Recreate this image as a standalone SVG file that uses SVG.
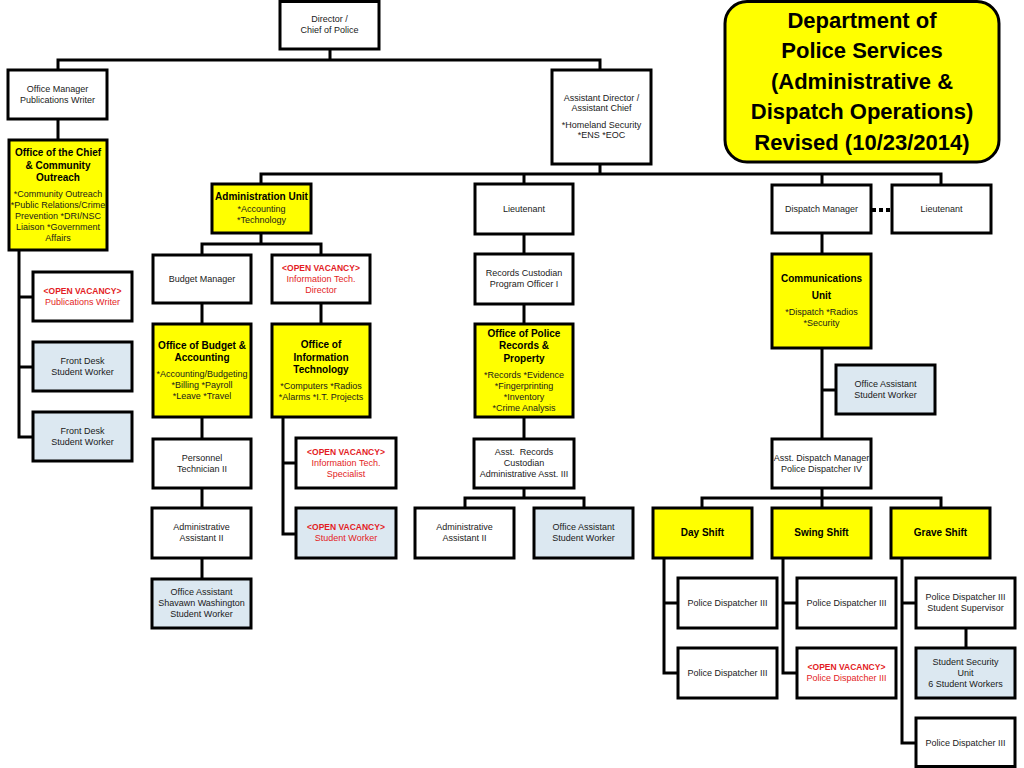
<svg xmlns="http://www.w3.org/2000/svg" width="1024" height="768" viewBox="0 0 1024 768">
<style>
.bx{stroke:#000;stroke-width:3}
.w{fill:#fff}
.y{fill:#ffff00}
.b{fill:#dce8f1}
.c{fill:none;stroke:#000;stroke-width:3;stroke-linecap:square}
text{font-family:"Liberation Sans",Arial,sans-serif;font-size:9px;text-anchor:middle;fill:#1a1a1a}
.h{font-weight:bold;font-size:10px;fill:#000}
.r{fill:#e31c25}
.rb{fill:#e31c25;font-weight:bold;font-size:8.5px}
.tt{font-weight:bold;font-size:22px;fill:#000}
</style>
<rect width="1024" height="768" fill="#fff"/>
<g id="connectors">
<path class="c" d="M330,49V60M58,60H600M58,60V70M600,60V70M58,119V140"/>
<path class="c" d="M19,250V437M19,297H33M19,367H33M19,437H33"/>
<path class="c" d="M600,164V174M261,174H941M261,174V184M524,174V184M822,174V185M941,174V185"/>
<path d="M872,210H891" fill="none" stroke="#000" stroke-width="4" stroke-dasharray="4 3"/>
<path class="c" d="M261,233V244M202,244H321M202,244V255M321,244V255M202,303V324M321,303V324"/>
<path class="c" d="M202,417V439M202,488V508M202,558V579"/>
<path class="c" d="M283,417V534M283,463H296M283,534H296"/>
<path class="c" d="M524,234V254M524,304V324M524,417V439M524,488V498M465,498H584M465,498V508M584,498V508"/>
<path class="c" d="M822,233V254M822,348V439M822,390H836M822,488V498M702,498H941M702,498V508M822,498V508M941,498V508"/>
<path class="c" d="M664,558V673M664,603H678M664,673H678"/>
<path class="c" d="M783,558V673M783,603H797M783,673H797"/>
<path class="c" d="M902,558V743M902,603H916M902,743H916M966,628V648"/>
</g>
<g id="director"><rect class="bx w" x="280" y="1.5" width="99" height="47.5"/><text x="329.5" y="22">Director /</text><text x="329.5" y="33">Chief of Police</text></g>
<g id="officeManager"><rect class="bx w" x="8" y="70" width="99" height="49"/><text x="57.5" y="92">Office Manager</text><text x="57.5" y="103">Publications Writer</text></g>
<g id="officeChief"><rect class="bx y" x="9" y="140" width="98" height="110"/>
<text class="h" x="58" y="156">Office of the Chief</text><text class="h" x="58" y="169">&amp; Community</text><text class="h" x="58" y="181">Outreach</text>
<text x="58" y="197">*Community Outreach</text><text x="58" y="208">*Public Relations/Crime</text><text x="58" y="219">Prevention *DRI/NSC</text><text x="58" y="230">Liaison *Government</text><text x="58" y="241">Affairs</text></g>
<g id="asstDirector"><rect class="bx w" x="552" y="70" width="99" height="94"/><text x="601.5" y="101">Assistant Director /</text><text x="601.5" y="111">Assistant Chief</text><text x="601.5" y="128">*Homeland Security</text><text x="601.5" y="138">*ENS *EOC</text></g>
<g id="title"><rect class="bx y" x="725" y="1.5" width="274" height="160.5" rx="22"/>
<text class="tt" x="862" y="28">Department of</text><text class="tt" x="862" y="58">Police Services</text><text class="tt" x="862" y="89">(Administrative &amp;</text><text class="tt" x="862" y="119">Dispatch Operations)</text><text class="tt" x="862" y="150">Revised (10/23/2014)</text></g>
<g id="adminUnit"><rect class="bx y" x="212" y="184" width="99" height="49"/><text class="h" x="261.5" y="200">Administration Unit</text><text x="261.5" y="212">*Accounting</text><text x="261.5" y="223">*Technology</text></g>
<g id="lieutenant1"><rect class="bx w" x="475" y="184" width="98" height="50"/><text x="524" y="212">Lieutenant</text></g>
<g id="dispatchManager"><rect class="bx w" x="772" y="185" width="99" height="48"/><text x="821.5" y="212">Dispatch Manager</text></g>
<g id="lieutenant2"><rect class="bx w" x="892" y="185" width="99" height="48"/><text x="941.5" y="212">Lieutenant</text></g>
<g id="ovPubWriter"><rect class="bx w" x="33" y="272" width="99" height="49"/><text class="rb" x="82.5" y="294">&lt;OPEN VACANCY&gt;</text><text class="r" x="82.5" y="305">Publications Writer</text></g>
<g id="frontDesk1"><rect class="bx b" x="33" y="342" width="99" height="49"/><text x="82.5" y="364">Front Desk</text><text x="82.5" y="375">Student Worker</text></g>
<g id="frontDesk2"><rect class="bx b" x="33" y="412" width="99" height="49"/><text x="82.5" y="434">Front Desk</text><text x="82.5" y="445">Student Worker</text></g>
<g id="budgetManager"><rect class="bx w" x="153" y="255" width="98" height="48"/><text x="202" y="282">Budget Manager</text></g>
<g id="ovITDirector"><rect class="bx w" x="272" y="255" width="98" height="48"/><text class="rb" x="321" y="271">&lt;OPEN VACANCY&gt;</text><text class="r" x="321" y="282">Information Tech.</text><text class="r" x="321" y="293">Director</text></g>
<g id="officeBudget"><rect class="bx y" x="153" y="324" width="98" height="93"/><text class="h" x="202" y="349">Office of Budget &amp;</text><text class="h" x="202" y="361">Accounting</text><text x="202" y="377">*Accounting/Budgeting</text><text x="202" y="388">*Billing *Payroll</text><text x="202" y="399">*Leave *Travel</text></g>
<g id="officeIT"><rect class="bx y" x="272" y="324" width="98" height="93"/><text class="h" x="321" y="348">Office of</text><text class="h" x="321" y="361">Information</text><text class="h" x="321" y="373">Technology</text><text x="321" y="389">*Computers *Radios</text><text x="321" y="400">*Alarms *I.T. Projects</text></g>
<g id="personnelTech"><rect class="bx w" x="153" y="439" width="98" height="49"/><text x="202" y="461">Personnel</text><text x="202" y="472">Technician II</text></g>
<g id="adminAsst1"><rect class="bx w" x="152" y="508" width="99" height="50"/><text x="201.5" y="530">Administrative</text><text x="201.5" y="541">Assistant II</text></g>
<g id="officeAsstShavawn"><rect class="bx b" x="152" y="579" width="99" height="49"/><text x="201.5" y="595">Office Assistant</text><text x="201.5" y="606">Shavawn Washington</text><text x="201.5" y="617">Student Worker</text></g>
<g id="ovITSpecialist"><rect class="bx w" x="296" y="438" width="100" height="50"/><text class="rb" x="346" y="455">&lt;OPEN VACANCY&gt;</text><text class="r" x="346" y="466">Information Tech.</text><text class="r" x="346" y="477">Specialist</text></g>
<g id="ovStudentWorker"><rect class="bx b" x="296" y="508" width="100" height="50"/><text class="rb" x="346" y="530">&lt;OPEN VACANCY&gt;</text><text class="r" x="346" y="541">Student Worker</text></g>
<g id="recordsCustodian"><rect class="bx w" x="475" y="254" width="98" height="50"/><text x="524" y="276">Records Custodian</text><text x="524" y="287">Program Officer I</text></g>
<g id="officeRecords"><rect class="bx y" x="475" y="324" width="98" height="93"/><text class="h" x="524" y="337">Office of Police</text><text class="h" x="524" y="349">Records &amp;</text><text class="h" x="524" y="362">Property</text><text x="524" y="378">*Records *Evidence</text><text x="524" y="389">*Fingerprinting</text><text x="524" y="400">*Inventory</text><text x="524" y="411">*Crime Analysis</text></g>
<g id="asstRecords"><rect class="bx w" x="474" y="439" width="100" height="49"/><text x="524" y="455" xml:space="preserve">Asst.  Records</text><text x="524" y="466">Custodian</text><text x="524" y="477">Administrative Asst. III</text></g>
<g id="adminAsst2"><rect class="bx w" x="415" y="508" width="99" height="50"/><text x="464.5" y="530">Administrative</text><text x="464.5" y="541">Assistant II</text></g>
<g id="officeAsstRecords"><rect class="bx b" x="534" y="508" width="99" height="50"/><text x="583.5" y="530">Office Assistant</text><text x="583.5" y="541">Student Worker</text></g>
<g id="commUnit"><rect class="bx y" x="772" y="254" width="99" height="94"/><text class="h" x="821.5" y="282">Communications</text><text class="h" x="821.5" y="299">Unit</text><text x="821.5" y="315">*Dispatch *Radios</text><text x="821.5" y="326">*Security</text></g>
<g id="officeAsstComm"><rect class="bx b" x="836" y="365" width="99" height="49"/><text x="885.5" y="387">Office Assistant</text><text x="885.5" y="398">Student Worker</text></g>
<g id="asstDispatchManager"><rect class="bx w" x="772" y="439" width="99" height="49"/><text x="821.5" y="461">Asst. Dispatch Manager</text><text x="821.5" y="472">Police Dispatcher IV</text></g>
<g id="dayShift"><rect class="bx y" x="653" y="508" width="99" height="50"/><text class="h" x="702.5" y="536">Day Shift</text></g>
<g id="swingShift"><rect class="bx y" x="772" y="508" width="99" height="50"/><text class="h" x="821.5" y="536">Swing Shift</text></g>
<g id="graveShift"><rect class="bx y" x="891" y="508" width="99" height="50"/><text class="h" x="940.5" y="536">Grave Shift</text></g>
<g id="dayPD1"><rect class="bx w" x="678" y="578" width="99" height="50"/><text x="727.5" y="606">Police Dispatcher III</text></g>
<g id="dayPD2"><rect class="bx w" x="678" y="648" width="99" height="50"/><text x="727.5" y="676">Police Dispatcher III</text></g>
<g id="swingPD1"><rect class="bx w" x="797" y="578" width="99" height="50"/><text x="846.5" y="606">Police Dispatcher III</text></g>
<g id="swingOV"><rect class="bx w" x="797" y="648" width="99" height="50"/><text class="rb" x="846.5" y="670">&lt;OPEN VACANCY&gt;</text><text class="r" x="846.5" y="681">Police Dispatcher III</text></g>
<g id="graveSupervisor"><rect class="bx w" x="916" y="578" width="99" height="50"/><text x="965.5" y="600">Police Dispatcher III</text><text x="965.5" y="611">Student Supervisor</text></g>
<g id="studentSecurity"><rect class="bx b" x="916" y="648" width="99" height="50"/><text x="965.5" y="665">Student Security</text><text x="965.5" y="676">Unit</text><text x="965.5" y="687">6 Student Workers</text></g>
<g id="gravePD"><rect class="bx w" x="916" y="718" width="99" height="48.5"/><text x="965.5" y="746">Police Dispatcher III</text></g>
</svg>
